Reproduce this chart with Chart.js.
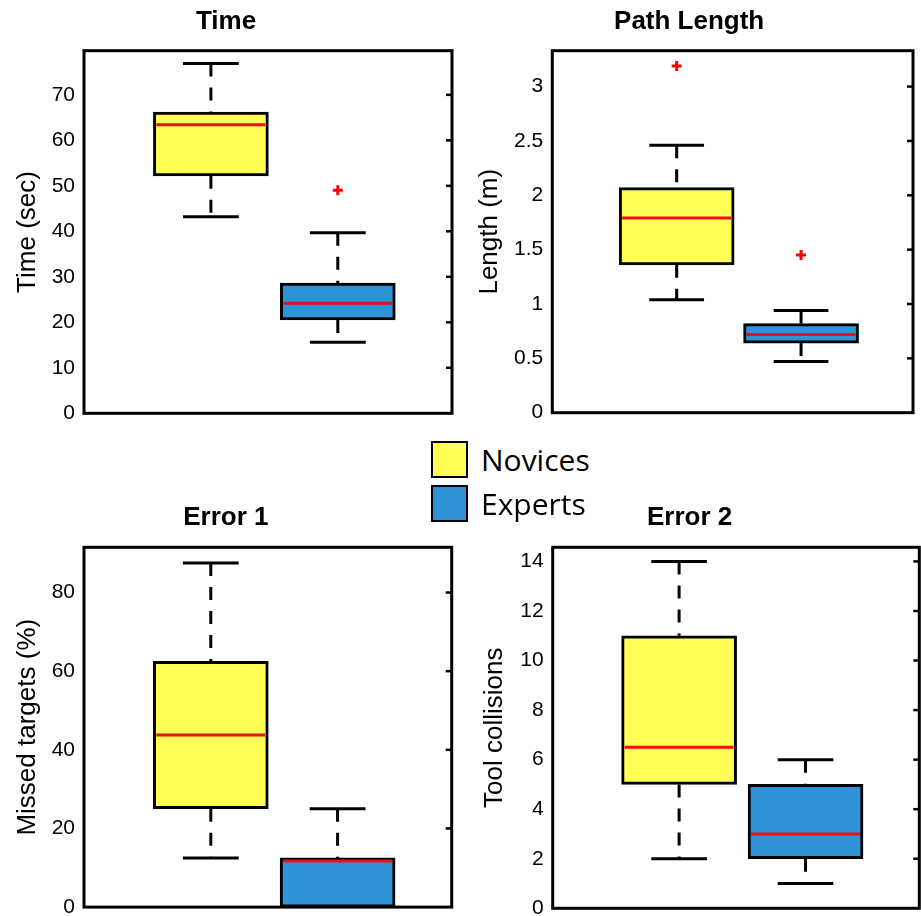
<!DOCTYPE html>
<html>
<head>
<meta charset="utf-8">
<script src="https://cdn.jsdelivr.net/npm/chart.js@4.4.1/dist/chart.umd.min.js"></script>
<style>
  body { margin: 0; background: #fff; }
  #wrap { position: relative; width: 921px; height: 916px; overflow: hidden; background: #fff; }
  canvas { position: absolute; }
  .leg { position: absolute; left: 431px; height: 41px; display: flex; align-items: center;
         font-family: 'Open Sans', sans-serif; font-size: 30px; color: #000; }
  .leg .sw { width: 37px; height: 37px; box-sizing: border-box; border: 2px solid #000; margin-right: 13px; }
</style>
</head>
<body>
<div id="wrap">
  <canvas id="c1" width="460" height="430" style="left:0;top:0"></canvas>
  <canvas id="c2" width="461" height="430" style="left:460px;top:0"></canvas>
  <canvas id="c3" width="460" height="426" style="left:0;top:490px"></canvas>
  <canvas id="c4" width="461" height="426" style="left:460px;top:490px"></canvas>
</div>
<script>
// groups and colours
const groups = ['Novices', 'Experts'];
const groupColors = ['#ffff55', '#2e93d5'];
const positions = [1, 2];

// five-number summaries: [lower whisker, Q1, median, Q3, upper whisker]
const timeNovices = [43.2, 52.2, 63.4, 66.2, 76.9];
const timeExperts = [15.6, 20.5, 24.2, 28.6, 39.7];
const timeOutliers = [[], [49.0]];
const timeTicks = [0, 10, 20, 30, 40, 50, 60, 70];

const pathNovices = [1.04, 1.36, 1.79, 2.07, 2.46];
const pathExperts = [0.47, 0.64, 0.72, 0.82, 0.94];
const pathOutliers = [[3.19], [1.45]];
const pathTicks = [0, 0.5, 1, 1.5, 2, 2.5, 3];

const err1Novices = [12.5, 25, 43.75, 62.5, 87.5];
const err1Experts = [0, 0, 12.5, 12.5, 25];
const err1Outliers = [[], []];
const err1Ticks = [0, 20, 40, 60, 80];

const err2Novices = [2, 5, 6.5, 11, 14];
const err2Experts = [1, 2, 3, 5, 6];
const err2Outliers = [[], []];
const err2Ticks = [0, 2, 4, 6, 8, 10, 12, 14];

const FONT = "'Liberation Sans', Arial, sans-serif";
const RED = '#e8101a';

// whiskers, caps, medians, frame and right-side ticks
const boxExtras = {
  id: 'boxExtras',
  afterDatasetsDraw(chart, args, o) {
    const { ctx, scales: { x, y } } = chart;
    const bars = chart.getDatasetMeta(0).data;
    const line = (x1, y1, x2, y2) => { ctx.beginPath(); ctx.moveTo(x1, y1); ctx.lineTo(x2, y2); ctx.stroke(); };
    ctx.save();
    o.stats.forEach((s, i) => {
      const [lo, q1, med, q3, hi] = s;
      const cx = x.getPixelForValue(positions[i]);
      const cl = x.getPixelForValue(positions[i] - 0.22);
      const cr = x.getPixelForValue(positions[i] + 0.22);
      ctx.strokeStyle = '#000';
      ctx.lineWidth = 3;
      ctx.setLineDash([13, 11]);
      if (hi > q3) line(cx, y.getPixelForValue(hi), cx, y.getPixelForValue(q3));
      if (lo < q1) line(cx, y.getPixelForValue(q1), cx, y.getPixelForValue(lo));
      ctx.setLineDash([]);
      if (hi > q3) line(cl, y.getPixelForValue(hi), cr, y.getPixelForValue(hi));
      if (lo < q1) line(cl, y.getPixelForValue(lo), cr, y.getPixelForValue(lo));
      const b = bars[i];
      ctx.strokeStyle = RED;
      ctx.lineWidth = 3;
      const my = y.getPixelForValue(med) + (med === q3 ? 3 : 0);
      line(b.x - b.width / 2 + 3, my, b.x + b.width / 2 - 3, my);
    });
    ctx.restore();
  },
  afterDraw(chart, args, o) {
    const { ctx, chartArea: a, scales: { y } } = chart;
    ctx.save();
    ctx.strokeStyle = '#000';
    ctx.lineWidth = 3;
    ctx.strokeRect(a.left, a.top, a.right - a.left, a.bottom - a.top);
    ctx.lineWidth = 2.5;
    o.ticks.forEach(v => {
      if (v === 0) return;
      const py = y.getPixelForValue(v);
      ctx.beginPath(); ctx.moveTo(a.right, py); ctx.lineTo(a.right - 6, py); ctx.stroke();
    });
    ctx.restore();
  }
};

function makePanel(id, title, yTitle, nov, exp, outs, ticks, yMax, L) {
  const stats = [nov, exp];
  const outPts = [];
  outs.forEach((list, i) => list.forEach(v => outPts.push({ x: positions[i], y: v })));
  new Chart(document.getElementById(id), {
    type: 'bar',
    data: {
      datasets: [
        {
          label: 'box',
          data: stats.map((s, i) => ({ x: positions[i], y: [s[1], s[3]] })),
          backgroundColor: groupColors,
          borderColor: '#000',
          borderWidth: 3,
          borderSkipped: false,
          barThickness: 115
        },
        {
          type: 'scatter',
          label: 'outliers',
          data: outPts,
          pointStyle: 'cross',
          radius: 5,
          borderWidth: 3,
          borderColor: '#ff0000'
        }
      ]
    },
    options: {
      responsive: false,
      animation: false,
      events: [],
      layout: { padding: { left: 0, right: L.right, top: 0, bottom: L.bottom } },
      plugins: {
        legend: { display: false },
        tooltip: { enabled: false },
        title: {
          display: true, text: title, color: '#000',
          font: { family: FONT, size: 26, weight: 'bold' },
          padding: { top: L.tTop, bottom: L.tBottom }
        },
        boxExtras: { stats, ticks }
      },
      scales: {
        x: { type: 'linear', min: 0, max: 2.9, offset: false, display: false },
        y: {
          min: 0, max: yMax,
          afterFit: s => { s.width = L.yw; s.paddingTop = 0; s.paddingBottom = 0; },
          afterBuildTicks: s => { s.ticks = ticks.map(v => ({ value: v })); },
          grid: { display: false, drawTicks: false },
          border: { display: false },
          ticks: {
            color: '#000', padding: 9,
            font: { family: FONT, size: 21 },
            callback: v => String(v)
          },
          title: {
            display: true, text: yTitle, color: '#000',
            font: { family: FONT, size: 26 },
            padding: { top: L.yt, bottom: 0 }
          }
        }
      }
    },
    plugins: [boxExtras]
  });
}

makePanel('c1', 'Time', 'Time (sec)', timeNovices, timeExperts, timeOutliers, timeTicks, 79.7,
  { yw: 84, right: 8, bottom: 16.7, tTop: 6.4, tBottom: 13.1, yt: 12.4 });
makePanel('c2', 'Path Length', 'Length (m)', pathNovices, pathExperts, pathOutliers, pathTicks, 3.33,
  { yw: 92.3, right: 2.7, bottom: 17.3, tTop: 6.4, tBottom: 13.1, yt: 14.4 });
makePanel('c3', 'Error 1', 'Missed targets (%)', err1Novices, err1Experts, err1Outliers, err1Ticks, 91.5,
  { yw: 84, right: 8.3, bottom: 8.9, tTop: 12.4, tBottom: 13.7, yt: 12.4 });
makePanel('c4', 'Error 2', 'Tool collisions', err2Novices, err2Experts, err2Outliers, err2Ticks, 14.57,
  { yw: 92.7, right: 1.7, bottom: 7.7, tTop: 12.4, tBottom: 13.7, yt: 19.4 });

// legend
const wrap = document.getElementById('wrap');
const legendTops = [439, 483];
groups.forEach((g, i) => {
  const row = document.createElement('div');
  row.className = 'leg';
  row.style.top = legendTops[i] + 'px';
  const sw = document.createElement('span');
  sw.className = 'sw';
  sw.style.background = groupColors[i];
  row.appendChild(sw);
  row.appendChild(document.createTextNode(g));
  wrap.appendChild(row);
});
</script>
</body>
</html>
